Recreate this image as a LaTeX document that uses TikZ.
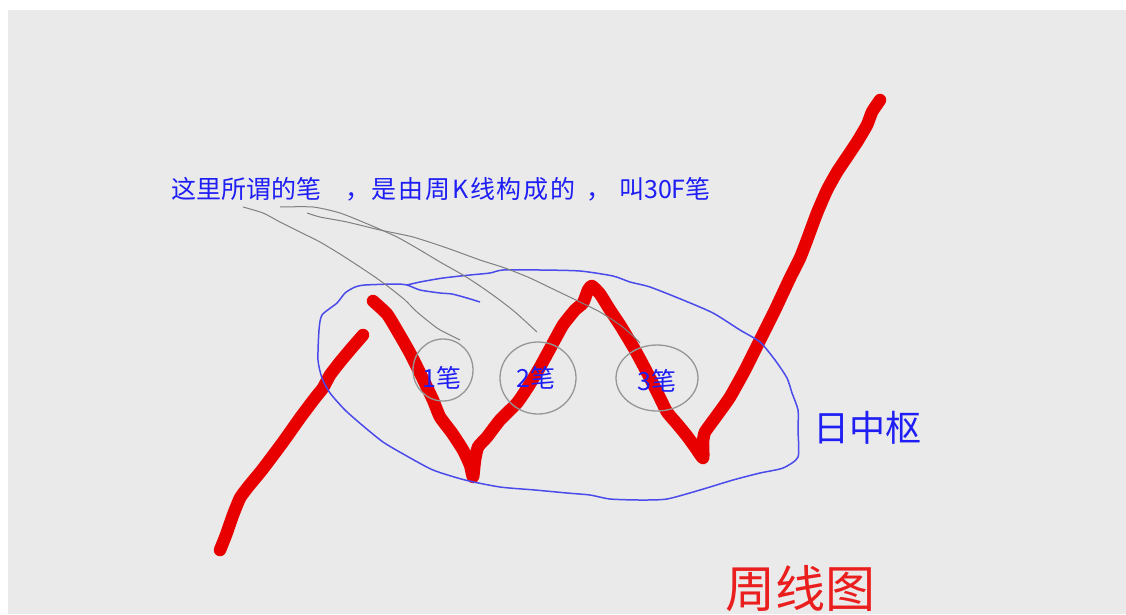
\documentclass[tikz,border=0pt]{standalone}
\usepackage{fontspec}
\newfontfamily\cjk{Noto Sans CJK SC}
\newfontfamily\cjkwide{Noto Sans CJK SC}[LetterSpace=7]
\usetikzlibrary{shapes.geometric}
\definecolor{bg}{RGB}{234,234,234}
\definecolor{penred}{RGB}{232,0,0}
\definecolor{penblue}{RGB}{75,75,235}
\definecolor{txtblue}{RGB}{30,30,245}
\definecolor{txtred}{RGB}{235,30,30}
\definecolor{leader}{RGB}{128,128,128}
\definecolor{ring}{RGB}{150,150,150}
\tikzset{
  redpen/.style={draw=penred,line width=12.5pt,line cap=round,line join=round},
  bluepen/.style={draw=penblue,line width=1.5pt,line join=round},
  leaderline/.style={draw=leader,line width=1pt,line join=round},
  ringnode/.style={ellipse,draw=ring,line width=1.3pt,inner sep=0pt},
  note/.style={inner sep=0pt,text=txtblue,font=\cjk\fontsize{25}{25}\selectfont},
}
\begin{document}
\begin{tikzpicture}[x=1pt,y=-1pt]
\useasboundingbox (0,0) rectangle (1126,614);
\fill[white] (0,0) rectangle (1126,614);
\fill[bg] (8,10) rectangle (1126,614);
\begin{scope}
\clip (0,0) rectangle (1126,614);
% red pen stroke
\draw[redpen] plot[smooth,tension=0.3] coordinates{(220,550) (226,535) (233,515) (240,498) (248,487) (262,470) (283,442) (300,418) (315,398) (323,388) (330,375) (340,362) (350,350) (363,335)};
\draw[redpen] plot[smooth,tension=0.3] coordinates{(373,301) (387,314) (398,332) (410,353) (422,377) (433,400) (440,417) (452,433) (463,450) (470,465) (473,477) (475,460) (478,447) (487,437) (500,420) (517,403) (528,387) (540,367) (552,345) (563,325) (575,310) (583,303) (588,290) (592,286) (600,294) (610,310) (620,325) (635,350) (650,378) (660,398) (667,412) (678,425) (687,436) (695,447) (703,458) (703,442) (705,432) (718,414) (730,397) (745,370) (760,340) (775,310) (790,278) (800,258) (807,240) (817,213) (827,190) (837,172) (847,157) (857,142) (867,125) (872,112) (880,100)};
% blue hand-drawn ellipse
\draw[bluepen] plot[smooth,tension=0.4] coordinates{(480,302) (467,298) (452,294) (440,293) (420,290) (407,285) (395,284) (365,285) (355,287) (345,293) (337,303) (322,315) (319,330) (318,360) (322,378) (330,393) (345,410) (362,425) (383,442) (405,455) (433,470) (465,480) (500,487) (535,490) (567,493) (590,495) (610,499) (640,500) (667,499) (700,490) (733,480) (760,473) (783,468) (798,457) (798,430) (798,410) (792,393) (787,378) (775,360) (760,342) (740,330) (713,313) (683,300) (650,287) (630,282) (613,276) (580,271) (540,270) (503,270) (490,273) (470,275) (443,278) (420,282) (407,285)};
% rings
\node[ringnode,minimum width=60pt,minimum height=62pt] (c1) at (443,370) {};
\node[ringnode,minimum width=76pt,minimum height=72pt] (c2) at (538,378) {};
\node[ringnode,minimum width=82pt,minimum height=66pt] (c3) at (657,378) {};
% labels in rings
\node[note,anchor=base west] (l1) at (422,387) {1笔};
\node[note,anchor=base west] (l2) at (516,387) {2笔};
\node[note,anchor=base west] (l3) at (637,390) {3笔};
% top note
\node[note,anchor=base west] (t1) at (171,198) {这里所谓的笔};
\node[note,anchor=base west,font=\cjkwide\fontsize{25}{25}\selectfont] (t2) at (345,198) {，是由周K线构成的};
\node[note,anchor=base west] (t3) at (586,198) {，};
\node[note,anchor=base west] (t4) at (619,198) {叫30F笔};
% leader lines
\draw[leaderline] plot[smooth,tension=0.4] coordinates{(243,207) (263,213) (280,222) (300,232) (320,242) (340,254) (357,265) (375,277) (390,288) (405,300) (417,312) (437,328) (450,335) (460,340)};
\draw[leaderline] plot[smooth,tension=0.4] coordinates{(280,207) (313,207) (340,213) (370,225) (397,237) (420,250) (440,262) (463,275) (480,286) (497,298) (515,312) (537,332)};
\draw[leaderline] plot[smooth,tension=0.4] coordinates{(307,213) (320,217) (347,222) (380,230) (413,237) (447,248) (480,260) (505,268) (530,278) (555,290) (580,302) (600,312) (620,325) (632,335) (640,343)};
% other labels
\node[inner sep=0pt,anchor=base west,text=txtblue,font=\cjk\fontsize{36}{36}\selectfont] (hub) at (813,441) {日中枢};
\node[inner sep=0pt,anchor=base west,text=txtred,font=\cjk\fontsize{50}{50}\selectfont] (title) at (725,607) {周线图};
\end{scope}
\end{tikzpicture}
\end{document}
